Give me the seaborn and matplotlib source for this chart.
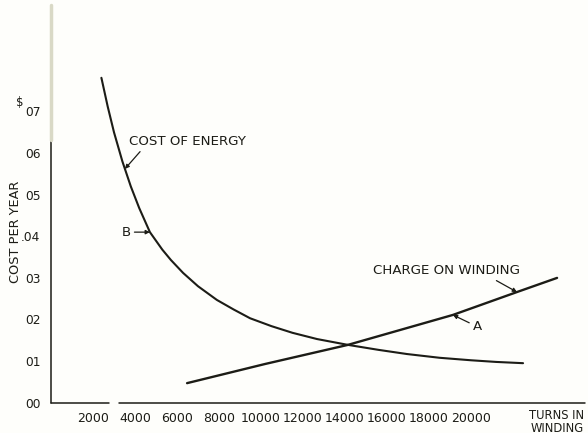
import numpy as np
import matplotlib
matplotlib.use("Agg")
import matplotlib.pyplot as plt
import seaborn as sns

sns.set_style("white")
plt.rcParams['font.family'] = ['DejaVu Sans']

# кривая B - стоимость энергии
energy_turns = [2400, 2700, 3000, 3400, 3800, 4200, 4710, 5300, 5710, 6290,
                7000, 7900, 8700, 9480, 10500, 11500, 12670, 14140, 15600,
                16950, 18500, 20000, 21200, 22480]
energy_cost = [0.0781, 0.0712, 0.0650, 0.0580, 0.0520, 0.0468, 0.0410, 0.0368,
               0.0343, 0.0312, 0.0280, 0.0247, 0.0224, 0.0203, 0.0184, 0.0168,
               0.0153, 0.0139, 0.0127, 0.0117, 0.0108, 0.0102, 0.0098, 0.0095]

# кривая A - стоимость обмотки
winding_turns = [6480, 10190, 14140, 19140, 22190, 24100]
winding_cost = [0.0047, 0.0093, 0.0139, 0.0211, 0.0266, 0.0300]

x_ticks = list(range(2000, 24001, 2000))
x_labels = ["2000", "4000", "6000", "8000", "10000", "12000", "14000",
            "16000", "18000", "20000", "", ""]
y_ticks = [0.0, 0.01, 0.02, 0.03, 0.04, 0.05, 0.06, 0.07, 0.08]
y_labels = ["00", "01", "02", "03", ".04", "05", "06", "07", ""]

ink = "#1c1c16"
pale = "#d9d9c6"
bg = "#fefefb"

fig = plt.figure(figsize=(5.88, 4.33), dpi=100, facecolor=bg)
ax = fig.add_axes([51/588, 30.3/433, 534/588, 397.7/433], facecolor=bg)
xmax, ymax = 25430, 0.0956

sns.lineplot(x=energy_turns, y=energy_cost, ax=ax, color=ink, lw=1.5)
sns.lineplot(x=winding_turns, y=winding_cost, ax=ax, color=ink, lw=1.7)

ax.set_xlim(0, xmax)
ax.set_ylim(0, ymax)
for s in ax.spines.values():
    s.set_visible(False)

# оси, с разрывом по X и бледным верхом по Y
ax.axvline(0, ymin=0, ymax=0.0632/ymax, color=ink, lw=1.1, clip_on=False)
ax.axvline(0, ymin=0.0632/ymax, ymax=1, color=pale, lw=2.5, clip_on=False)
ax.axhline(0, xmin=0, xmax=2760/xmax, color=ink, lw=1.1, clip_on=False)
ax.axhline(0, xmin=3240/xmax, xmax=1, color=ink, lw=1.1, clip_on=False)

ax.set_xticks(x_ticks)
ax.set_xticklabels(x_labels)
ax.set_yticks(y_ticks)
ax.set_yticklabels(y_labels)
ax.tick_params(axis='x', direction='in', length=3, width=0.9, color=ink,
               pad=7, labelsize=9, labelcolor=ink)
ax.tick_params(axis='y', direction='in', length=3, width=0.9, color=ink,
               pad=7.5, labelsize=8.8, labelcolor=ink)
for t in ax.yaxis.get_major_ticks()[7:]:
    t.tick1line.set_color(pale)

ax.set_ylabel("")
fig.text(16/588, 1 - 232/433, "COST PER YEAR", rotation=90, ha='center',
         va='center', fontsize=9.3, color=ink)
fig.text(20/588, 1 - 103/433, r"\$", ha='center', va='center',
         fontsize=8.5, color=ink)
fig.text(557/588, 1 - 409/433, "TURNS IN\nWINDING", ha='center', va='top',
         fontsize=8.3, color=ink, linespacing=0.95, multialignment='center')

arrow = dict(arrowstyle='-|>', color=ink, lw=0.9, mutation_scale=6,
             shrinkA=0, shrinkB=0)

x_e = 3520
ax.annotate("COST OF ENERGY", xy=(x_e, np.interp(x_e, energy_turns, energy_cost)),
            xytext=(3710, 0.0627), fontsize=9.6, color=ink, va='center',
            ha='left', arrowprops=dict(arrow, relpos=(0.12, 0.0)))
x_b = 4710
ax.annotate("B", xy=(x_b, np.interp(x_b, energy_turns, energy_cost)),
            xytext=(3600, 0.041), fontsize=9.6, color=ink, va='center',
            ha='center', arrowprops=dict(arrow, relpos=(1.0, 0.5)))
x_w = 22190
ax.annotate("CHARGE ON WINDING", xy=(x_w, np.interp(x_w, winding_turns, winding_cost)),
            xytext=(15330, 0.0317), fontsize=9.6, color=ink, va='center',
            ha='left', arrowprops=dict(arrow, relpos=(0.8, 0.0)))
x_a = 19140
ax.annotate("A", xy=(x_a, np.interp(x_a, winding_turns, winding_cost)),
            xytext=(20290, 0.0182), fontsize=9.6, color=ink, va='center',
            ha='center', arrowprops=dict(arrow, relpos=(0.0, 0.7)))

fig.savefig("out.png", dpi=100, facecolor=bg)
